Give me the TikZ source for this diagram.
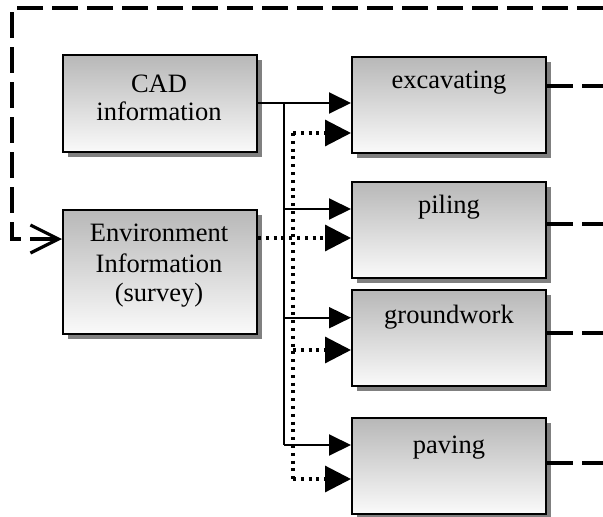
\documentclass[tikz,border=0pt]{standalone}
\usepackage{fontspec}
\setmainfont{Liberation Serif}
\usetikzlibrary{arrows.meta,shadows}
\begin{document}
\begin{tikzpicture}[x=1pt,y=-1pt,
  box/.style={draw=black, line width=2pt, top color=black!28, bottom color=black!2,
    minimum width=194pt, inner sep=0pt, anchor=north west,
    drop shadow={shadow xshift=5pt, shadow yshift=-5pt, fill=black!50, opacity=1}},
  txt/.style={font=\fontsize{26.5}{30}\selectfont, inner sep=0pt, anchor=base},
  sol/.style={line width=2pt, -{Triangle[length=22pt,width=21pt]}},
  solline/.style={line width=2pt},
  dotline/.style={line width=3.2pt, line cap=butt, dash pattern=on 3pt off 4.8pt},
  dotar/.style={dotline, -{Triangle[length=26pt,width=26pt]}},
  fbk/.style={line width=4.2pt, dash pattern=on 26pt off 9pt}
]
\path[use as bounding box, fill=white] (0,0) rectangle (603,517);

% boxes
\node[box, minimum height=97pt] (cad) at (62,54) {};
\node[box, minimum height=123.5pt] (env) at (62,209) {};
\node[box, minimum height=96pt] (exc) at (351,55.7) {};
\node[box, minimum height=96pt] (pil) at (351,181) {};
\node[box, minimum height=96pt] (gro) at (351,289.3) {};
\node[box, minimum height=95.5pt] (pav) at (351,417.3) {};

% texts
\node[txt] (cadt1) at (159,92) {CAD};
\node[txt] (cadt2) at (159,120) {information};
\node[txt] (envt1) at (159,241.7) {Environment};
\node[txt] (envt2) at (159,272) {Information};
\node[txt] (envt3) at (159,301) {(survey)};
\node[txt] (exct) at (449,88) {excavating};
\node[txt] (pilt) at (449,213) {piling};
\node[txt] (grot) at (449,323) {groundwork};
\node[txt] (pavt) at (449,453) {paving};

% solid connectors
\coordinate (st) at (284,103);
\coordinate (s2) at (284,209);
\coordinate (s3) at (284,317.7);
\coordinate (sb) at (284,445);
\draw[sol] (cad.east |- st) -- (exc.west |- st);
\draw[solline] (st) -- (sb);
\draw[sol] (s2) -- (pil.west |- s2);
\draw[sol] (s3) -- (gro.west |- s3);
\draw[sol] (sb) -- (pav.west |- sb);

% dotted connectors
\coordinate (dt) at (293,133);
\coordinate (de) at (293,238);
\coordinate (d3) at (293,350);
\coordinate (db) at (293,479);
\draw[dotline] (dt) -- (db);
\draw[dotar] (dt) -- (exc.west |- dt);
\draw[dotar] (env.east |- de) -- (pil.west |- de);
\draw[dotar] (d3) -- (gro.west |- d3);
\draw[dotar] (db) -- (pav.west |- db);

% feedback dashed lines
\coordinate (fr) at (603,8);
\coordinate (fc) at (12,8);
\coordinate (fb) at (12,239);
\draw[fbk, -{Straight Barb[length=28pt,width=28pt,line width=3.2pt]}] (fr) -- (fc) -- (fb) -- (env.west |- fb);
\coordinate (e1) at (603,86);
\coordinate (e2) at (603,224);
\coordinate (e3) at (603,333);
\coordinate (e4) at (603,463);
\draw[fbk] (exc.east |- e1) -- (e1);
\draw[fbk] (pil.east |- e2) -- (e2);
\draw[fbk] (gro.east |- e3) -- (e3);
\draw[fbk] (pav.east |- e4) -- (e4);
\end{tikzpicture}
\end{document}
